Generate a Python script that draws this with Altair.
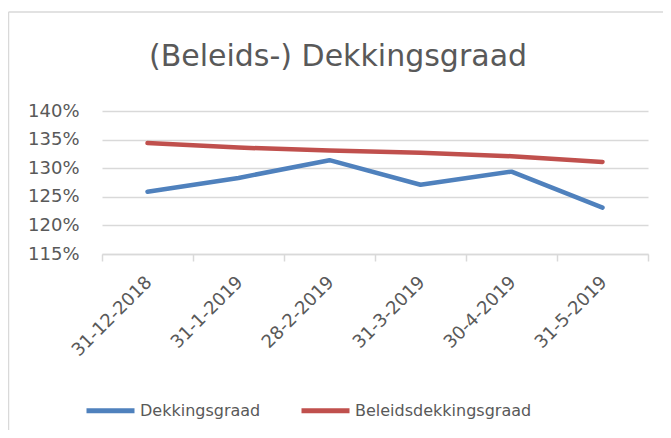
import altair as alt
import pandas as pd

dates = ["31-12-2018", "31-1-2019", "28-2-2019", "31-3-2019", "30-4-2019", "31-5-2019"]
dekkingsgraad = [1.259, 1.283, 1.314, 1.271, 1.294, 1.231]
beleidsdekkingsgraad = [1.344, 1.336, 1.331, 1.327, 1.321, 1.311]
series_names = ["Dekkingsgraad", "Beleidsdekkingsgraad"]
series_colors = ["#4F81BD", "#C0504D"]
y_ticks = [1.15, 1.20, 1.25, 1.30, 1.35, 1.40]
chart_title = ["(Beleids-) Dekkingsgraad"]

rows = []
for name, vals in zip(series_names, [dekkingsgraad, beleidsdekkingsgraad]):
    for d, v in zip(dates, vals):
        rows.append({"Datum": d, "Serie": name, "Waarde": v})
df = pd.DataFrame(rows)

FONT = "DejaVu Sans"
GREY = "#595959"
LINE = "#D9D9D9"

lines = alt.Chart(df).mark_line(strokeWidth=4.5, strokeCap="round", strokeJoin="round").encode(
    x=alt.X("Datum:N", sort=dates, scale=alt.Scale(paddingInner=0, paddingOuter=0),
            axis=alt.Axis(title=None, labelAngle=-45, labelFontSize=18, labelColor=GREY,
                          labelFont=FONT, domainColor=LINE, domainWidth=1.5,
                          tickColor=LINE, tickWidth=1.5, tickSize=7, tickBand="extent",
                          labelPadding=12, labelOffset=-5, grid=False)),
    y=alt.Y("Waarde:Q", scale=alt.Scale(domain=[1.15, 1.40], nice=False, zero=False),
            axis=alt.Axis(title=None, values=y_ticks, format=".0%", labelFontSize=18,
                          labelColor=GREY, labelFont=FONT, domain=False, ticks=False,
                          labelPadding=23, gridColor=LINE, gridWidth=1.3)),
    color=alt.Color("Serie:N", sort=series_names,
                    scale=alt.Scale(domain=series_names, range=series_colors),
                    legend=alt.Legend(title=None, orient="none", direction="horizontal",
                                      legendX=-18, legendY=273, symbolType="stroke",
                                      symbolSize=2304, symbolStrokeWidth=5,
                                      labelFontSize=16, labelColor=GREY, labelFont=FONT,
                                      labelOffset=3, labelLimit=0, columnPadding=30, padding=0)),
)

title_text = alt.Chart(pd.DataFrame({"t": chart_title})).mark_text(
    fontSize=30, font=FONT, color=GREY, align="center", baseline="alphabetic"
).encode(text="t:N", x=alt.value(236), y=alt.value(-45))

border = alt.Chart(pd.DataFrame({"k": [0]})).mark_rule(color=LINE, strokeWidth=1.5).encode(
    x=alt.value(-93.5), y=alt.value(-99), y2=alt.value(340)
)
border_top = alt.Chart(pd.DataFrame({"k": [0]})).mark_rule(color=LINE, strokeWidth=1.5).encode(
    x=alt.value(-93.5), x2=alt.value(570), y=alt.value(-99)
)

chart = alt.layer(border, border_top, title_text, lines).properties(
    width=546, height=143,
    autosize=alt.AutoSizeParams(type="none"),
    padding={"left": 94, "top": 103, "right": 15, "bottom": 176},
).configure_view(stroke=None)

chart.save("out.html", embed_options={"renderer": "svg", "actions": False})
